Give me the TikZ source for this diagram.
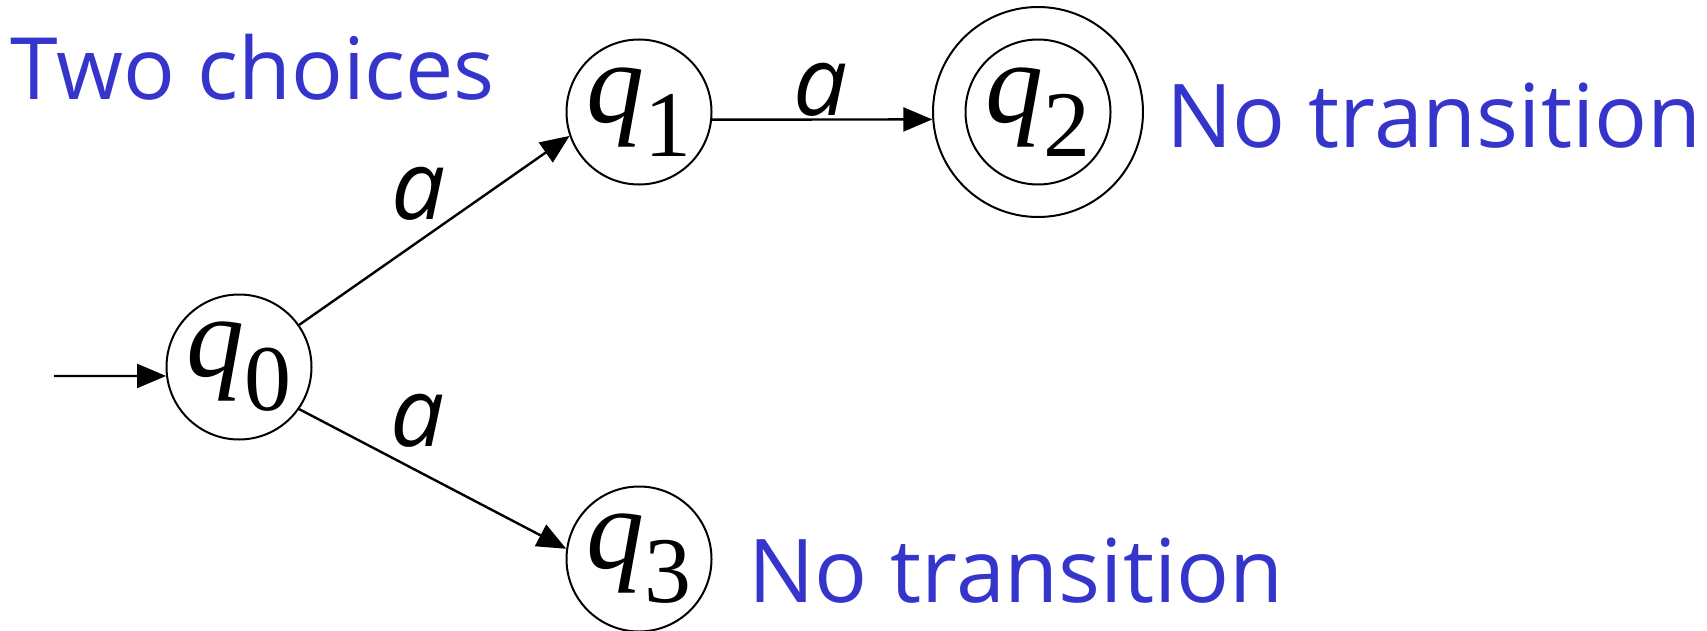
\documentclass[tikz,border=0pt]{standalone}
\usepackage{fontspec}
\setmainfont{Open Sans}
\newfontfamily\statefont{Liberation Serif}
\usetikzlibrary{arrows.meta}
\definecolor{NoteBlue}{HTML}{3535CC}
\newcommand{\qstate}[1]{{\itshape q}\raisebox{-17pt}{\fontsize{47}{47}\selectfont #1}}

\begin{document}
\begin{tikzpicture}[
    x=0.5pt, y=-0.5pt,
    state/.style={circle, draw, line width=1pt, minimum size=72.5pt, inner sep=0pt, font=\statefont\fontsize{58}{58}\selectfont},
    final/.style={state, minimum size=105pt},
    ring/.style={line width=1pt},
    edge/.style={line width=1.2pt, -{Triangle[length=14.5pt, width=12pt]}},
    sym/.style={font=\fontsize{48}{54}\selectfont\itshape, inner sep=0pt},
    note/.style={text=NoteBlue, font=\fontsize{44}{54}\selectfont, anchor=base west, inner sep=0pt}
]
\useasboundingbox (0,0) rectangle (1707,631);
\node[state] (q0) at (239,367) {\qstate{0}};
\node[state] (q1) at (639,112) {\qstate{1}};
\node[final] (q2) at (1038,112) {};
\node[state, draw=none] (q2in) at (1038,112) {\qstate{2}};
\draw[ring] (q2) circle[radius=36.25pt];
\node[state] (q3) at (639,559) {\qstate{3}};
\coordinate (start) at (54,376);

\draw[edge] (start) -- (q0.187);
\draw[edge] (q0.35) -- (q1.199);
\draw[edge] (q0.325) -- (q3.172);
\draw[edge] (q1.354) -- (q2.184);

\node[sym] (a01) at (419,194) {a};
\node[sym] (a03) at (418,421) {a};
\node[sym] (a12) at (821,90) {a};

\node[note, font=\fontsize{43}{54}\selectfont] (choices) at (10,99) {Two choices};
\node[note] (stuck2) at (1166,148) {No transition};
\node[note] (stuck3) at (748,602) {No transition};
\end{tikzpicture}
\end{document}
